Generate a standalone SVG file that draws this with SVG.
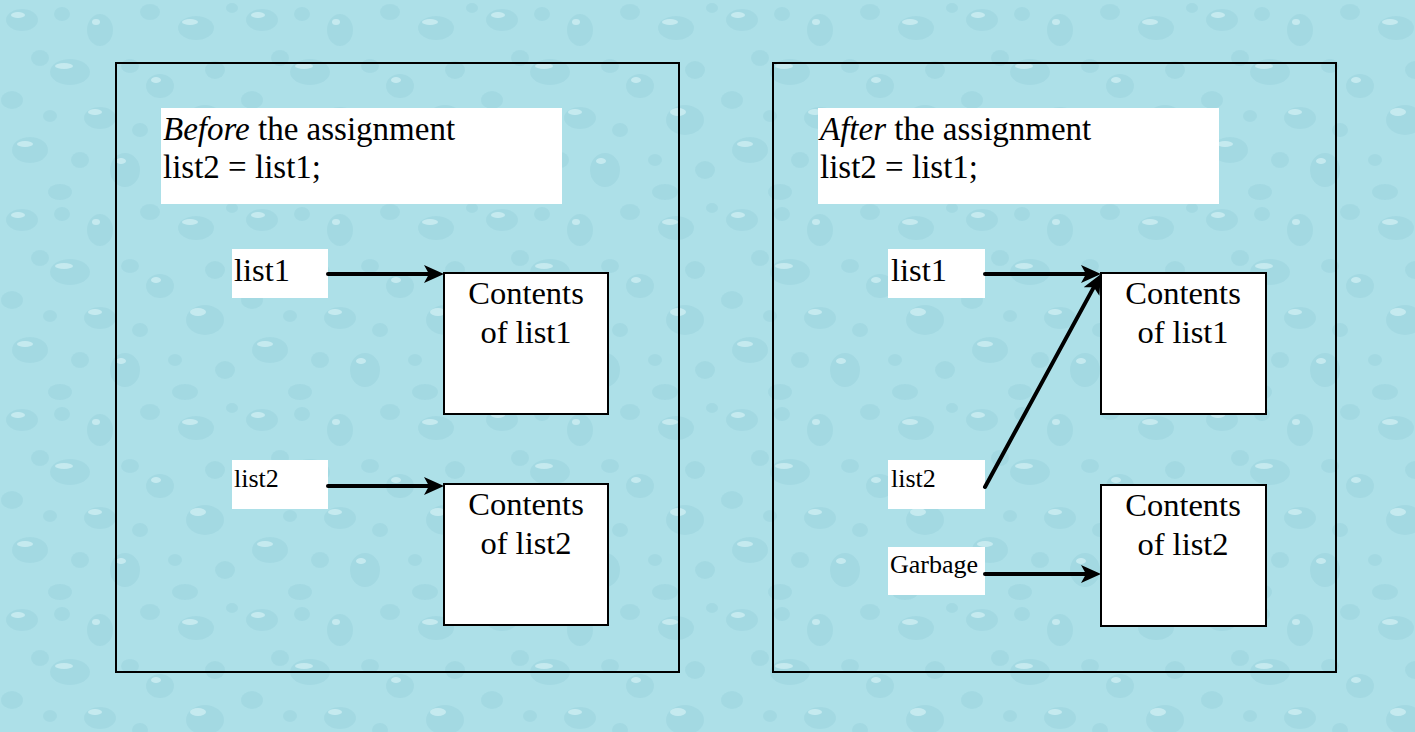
<svg xmlns="http://www.w3.org/2000/svg" width="1415" height="732" viewBox="0 0 1415 732">
<style>
.frame{fill:none;stroke:#000;stroke-width:2}
.wbox{fill:#fff;stroke:none}
.cbox{fill:#fff;stroke:#000;stroke-width:2}
text{font-family:"Liberation Serif",serif;fill:#000}
.title{font-size:33px}
.big{font-size:32.5px}
.small{font-size:26px}
.mid{text-anchor:middle}
.arrow{stroke:#000;stroke-width:4;fill:none;stroke-linecap:round;marker-end:url(#ah)}
.d{fill:#98d0db;opacity:0.45}
.h{fill:#dcf5f8;opacity:0.6}
</style>
<defs>
<marker id="ah" markerUnits="userSpaceOnUse" markerWidth="20" markerHeight="18" refX="11" refY="9" orient="auto">
<path d="M0,0 L20,9 L0,18 L5,9 Z" fill="#000"/>
</marker>
<pattern id="drops" patternUnits="userSpaceOnUse" width="240" height="200">
<rect width="240" height="200" fill="#ade0e8"/>
<ellipse class="d" cx="22" cy="20" rx="16" ry="11"/>
<ellipse class="h" cx="18" cy="15" rx="7" ry="3"/>
<ellipse class="d" cx="62" cy="14" rx="8" ry="7"/>
<ellipse class="d" cx="100" cy="30" rx="13" ry="16"/>
<ellipse class="h" cx="96" cy="22" rx="4" ry="3"/>
<ellipse class="d" cx="150" cy="12" rx="10" ry="8"/>
<ellipse class="d" cx="196" cy="28" rx="18" ry="12"/>
<ellipse class="h" cx="190" cy="22" rx="8" ry="3"/>
<ellipse class="d" cx="232" cy="8" rx="6" ry="5"/>
<ellipse class="d" cx="40" cy="58" rx="9" ry="8"/>
<ellipse class="d" cx="70" cy="72" rx="20" ry="13"/>
<ellipse class="h" cx="64" cy="66" rx="9" ry="3"/>
<ellipse class="d" cx="130" cy="66" rx="9" ry="7"/>
<ellipse class="d" cx="160" cy="86" rx="14" ry="12"/>
<ellipse class="h" cx="156" cy="80" rx="5" ry="3"/>
<ellipse class="d" cx="215" cy="70" rx="10" ry="9"/>
<ellipse class="d" cx="12" cy="100" rx="11" ry="9"/>
<ellipse class="d" cx="50" cy="116" rx="7" ry="6"/>
<ellipse class="d" cx="100" cy="118" rx="16" ry="11"/>
<ellipse class="h" cx="95" cy="112" rx="7" ry="3"/>
<ellipse class="d" cx="205" cy="120" rx="19" ry="15"/>
<ellipse class="h" cx="198" cy="112" rx="8" ry="4"/>
<ellipse class="d" cx="140" cy="130" rx="8" ry="7"/>
<ellipse class="d" cx="30" cy="150" rx="18" ry="13"/>
<ellipse class="h" cx="25" cy="144" rx="8" ry="3"/>
<ellipse class="d" cx="80" cy="160" rx="9" ry="8"/>
<ellipse class="d" cx="125" cy="170" rx="15" ry="17"/>
<ellipse class="h" cx="121" cy="161" rx="5" ry="3"/>
<ellipse class="d" cx="175" cy="160" rx="7" ry="6"/>
<ellipse class="d" cx="225" cy="170" rx="10" ry="9"/>
<ellipse class="d" cx="60" cy="192" rx="12" ry="8"/>
<ellipse class="d" cx="185" cy="192" rx="13" ry="8"/>
</pattern>
</defs>
<rect id="background" x="0" y="0" width="1415" height="732" fill="url(#drops)"/>

<g id="before-panel">
<rect class="frame" x="116" y="63" width="563" height="609"/>
</g>
<g id="before-title">
<rect class="wbox" x="161" y="108" width="401" height="96"/>
<text class="title" x="163" y="140"><tspan font-style="italic">Before</tspan> the assignment</text>
<text class="title" x="163" y="178">list2 = list1;</text>
</g>
<g id="before-list1">
<rect class="wbox" x="232" y="249" width="96" height="49"/>
<text class="big" x="234" y="281">list1</text>
</g>
<g id="before-list2">
<rect class="wbox" x="232" y="460" width="96" height="49"/>
<text class="small" x="234" y="487">list2</text>
</g>
<g id="before-contents1">
<rect class="cbox" x="444" y="273" width="164" height="141"/>
<text class="big mid" x="526" y="304">Contents</text>
<text class="big mid" x="526" y="343">of list1</text>
</g>
<g id="before-contents2">
<rect class="cbox" x="444" y="484" width="164" height="141"/>
<text class="big mid" x="526" y="515">Contents</text>
<text class="big mid" x="526" y="554">of list2</text>
</g>

<g id="after-panel">
<rect class="frame" x="773" y="63" width="563" height="609"/>
</g>
<g id="after-title">
<rect class="wbox" x="818" y="108" width="401" height="96"/>
<text class="title" x="820" y="140"><tspan font-style="italic">After</tspan> the assignment</text>
<text class="title" x="820" y="178">list2 = list1;</text>
</g>
<g id="after-list1">
<rect class="wbox" x="888" y="249" width="97" height="49"/>
<text class="big" x="891" y="281">list1</text>
</g>
<g id="after-list2">
<rect class="wbox" x="888" y="460" width="97" height="49"/>
<text class="small" x="891" y="487">list2</text>
</g>
<g id="after-garbage">
<rect class="wbox" x="888" y="547" width="97" height="48"/>
<text class="small" x="890" y="573">Garbage</text>
</g>
<g id="after-contents1">
<rect class="cbox" x="1101" y="273" width="165" height="141"/>
<text class="big mid" x="1183" y="304">Contents</text>
<text class="big mid" x="1183" y="343">of list1</text>
</g>
<g id="after-contents2">
<rect class="cbox" x="1101" y="485" width="165" height="141"/>
<text class="big mid" x="1183" y="516">Contents</text>
<text class="big mid" x="1183" y="555">of list2</text>
</g>

<g id="connectors">
<line class="arrow" x1="328" y1="274" x2="435" y2="274"/>
<line class="arrow" x1="328" y1="486" x2="435" y2="486"/>
<line class="arrow" x1="985" y1="274" x2="1092" y2="274"/>
<line class="arrow" x1="985" y1="487" x2="1096.7" y2="281.9"/>
<line class="arrow" x1="985" y1="574" x2="1092" y2="574"/>
</g>
</svg>
